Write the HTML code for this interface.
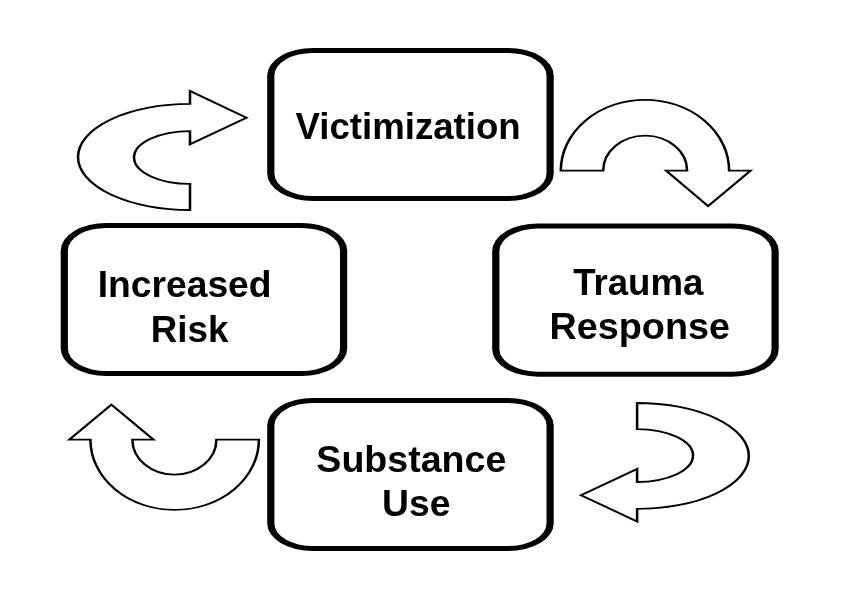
<!DOCTYPE html>
<html><head><meta charset="utf-8"><title>Cycle</title>
<style>
html,body{margin:0;padding:0;background:#fff;}
svg{display:block;filter:grayscale(1)}
text{font-family:"Liberation Sans",sans-serif;font-weight:bold;font-size:100px;fill:#000}
</style></head><body>
<svg width="850" height="616" viewBox="0 0 850 616">
<rect width="850" height="616" fill="#fff"/>
<rect x="267.2" y="47.9" width="286.5" height="153.2" rx="46" ry="27.5" fill="#000"/>
<rect x="274.4" y="52.9" width="272.1" height="143.2" rx="38.8" ry="22.5" fill="#fff"/>
<rect x="60.7" y="222.9" width="286.5" height="153.2" rx="46" ry="27.5" fill="#000"/>
<rect x="67.9" y="227.9" width="272.1" height="143.2" rx="38.8" ry="22.5" fill="#fff"/>
<rect x="492.2" y="223.5" width="286.5" height="153.2" rx="46" ry="27.5" fill="#000"/>
<rect x="499.4" y="228.5" width="272.1" height="143.2" rx="38.8" ry="22.5" fill="#fff"/>
<rect x="267.2" y="397.9" width="286.5" height="153.2" rx="46" ry="27.5" fill="#000"/>
<rect x="274.4" y="402.9" width="272.1" height="143.2" rx="38.8" ry="22.5" fill="#fff"/>
<g transform="scale(1.4 1)" fill="#fff" stroke="#000" stroke-width="1.8" stroke-linejoin="miter">
<path d="M135.714 103.900 L135.714 90.900 L176.071 117.800 L135.714 144.300 L135.714 131.100 A40.000 26.400 0 0 0 135.714 183.900 L135.714 210.000 A80.000 53.050 0 0 1 135.714 103.900 Z"/>
<path d="M400.571 170.700 A60.107 70.900 0 0 1 520.786 170.700 L536.143 170.700 L505.786 206.100 L475.786 170.700 L490.786 170.700 A29.964 35.100 0 0 0 430.857 170.700 Z"/>
<path d="M455.071 403.000 A79.857 52.950 0 0 1 455.071 508.900 L455.071 521.500 L415.000 495.200 L455.071 469.000 L455.071 482.000 A40.000 26.450 0 0 0 455.071 429.100 Z"/>
<path d="M184.929 439.700 A60.179 70.200 0 0 1 64.571 439.700 L49.500 439.700 L79.571 404.600 L109.643 439.700 L94.571 439.700 A30.000 34.900 0 0 0 154.571 439.700 Z"/>
</g>
<text transform="translate(295.53 138.90) scale(0.3663 0.372)">Victimization</text>
<text transform="translate(97.69 297.00) scale(0.3724 0.372)">Increased</text>
<text transform="translate(150.72 341.80) scale(0.3681 0.372)">Risk</text>
<text transform="translate(573.13 294.70) scale(0.3662 0.372)">Trauma</text>
<text transform="translate(549.45 339.10) scale(0.3779 0.372)">Response</text>
<text transform="translate(316.37 471.50) scale(0.3758 0.372)">Substance</text>
<text transform="translate(381.96 515.90) scale(0.3730 0.372)">Use</text>
</svg></body></html>
